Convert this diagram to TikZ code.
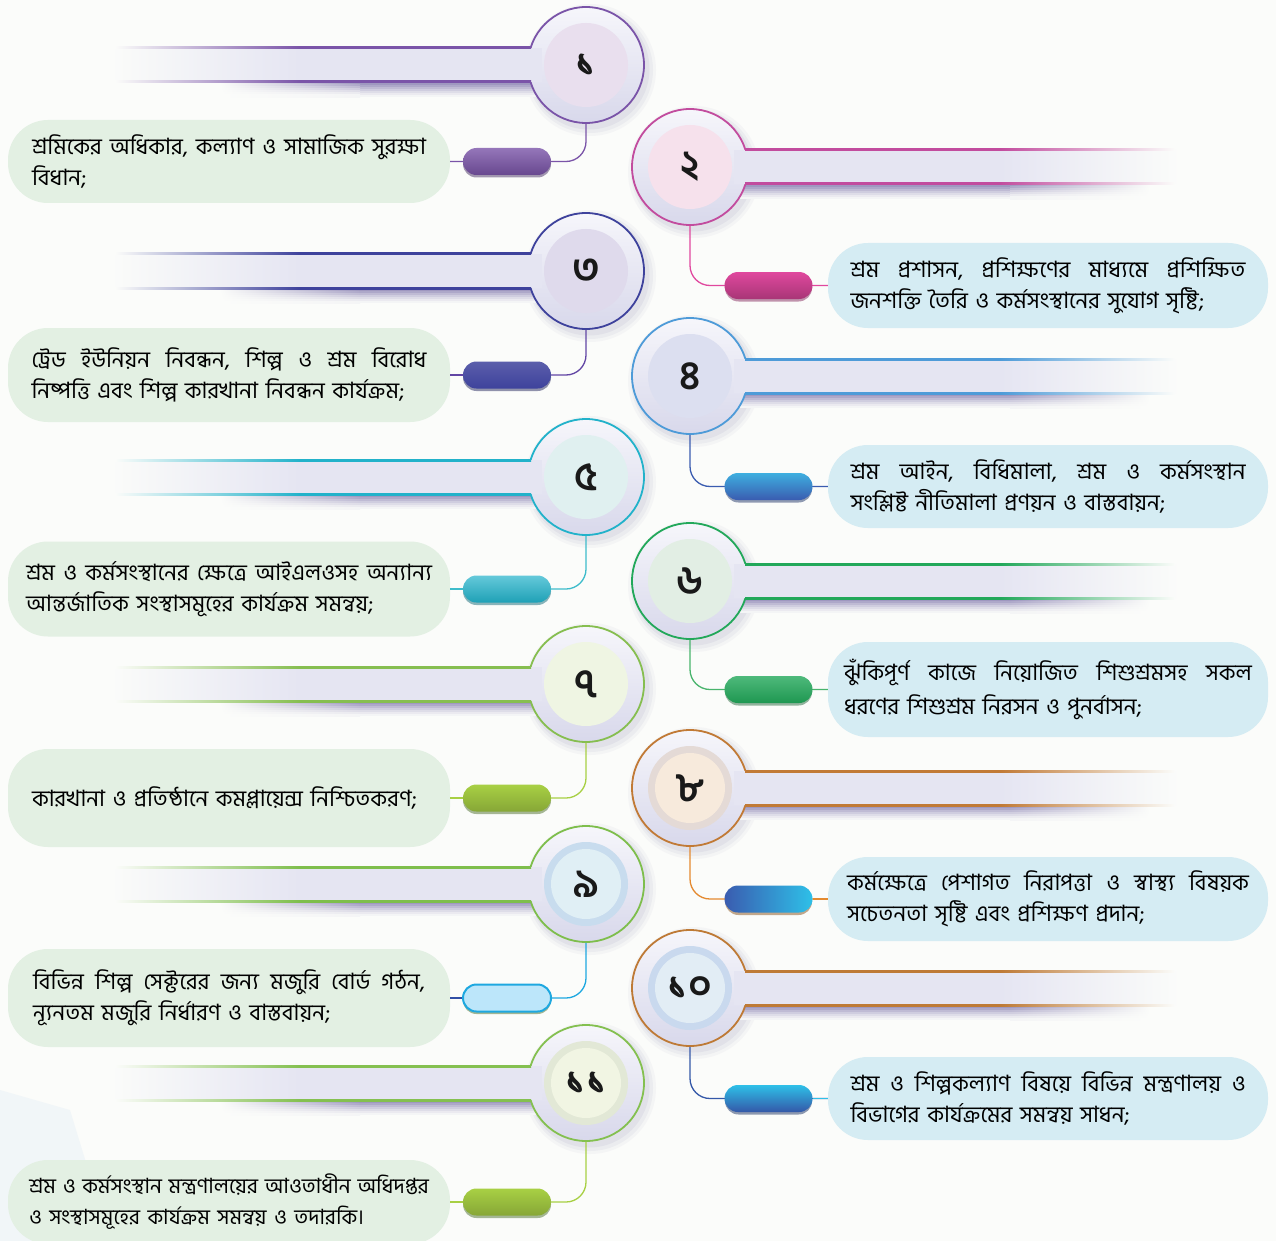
\documentclass[tikz,border=0pt]{standalone}
\usepackage{fontspec}
\setmainfont[Script=Bengali]{Hind Siliguri}
\newfontfamily\bnnum[Script=Bengali]{Hind Siliguri}

\definecolor{bgc}{HTML}{FBFCFA}
\definecolor{bandc}{HTML}{E5E5F2}
\definecolor{ctop}{HTML}{F6F6FB}
\definecolor{cbot}{HTML}{D8D8EB}
\definecolor{circshadow}{HTML}{7D76A8}
\definecolor{bandshadow}{HTML}{9A93BD}
\definecolor{lbox}{HTML}{E3F0E3}
\definecolor{rbox}{HTML}{D5ECF3}
\definecolor{pill9fill}{HTML}{BCE6FA}
\definecolor{tintc}{HTML}{E6EFF6}

% item colours
\definecolor{main1}{HTML}{7A54A8}\definecolor{inner1}{HTML}{E9DFEE}\colorlet{ring1}{inner1}
\definecolor{conn1}{HTML}{7A54A8}\colorlet{link1}{conn1}
\definecolor{main2}{HTML}{C24C9E}\definecolor{inner2}{HTML}{F6E1EC}\colorlet{ring2}{inner2}
\definecolor{conn2}{HTML}{E0489E}\colorlet{link2}{conn2}
\definecolor{main3}{HTML}{3E429C}\definecolor{inner3}{HTML}{DFDAEC}\colorlet{ring3}{inner3}
\definecolor{conn3}{HTML}{6246A4}\colorlet{link3}{conn3}
\definecolor{main4}{HTML}{4E9BD8}\definecolor{inner4}{HTML}{DCDFF0}\colorlet{ring4}{inner4}
\definecolor{conn4}{HTML}{3A5CB0}\colorlet{link4}{conn4}
\definecolor{main5}{HTML}{22B2CA}\definecolor{inner5}{HTML}{E0F0F0}\colorlet{ring5}{inner5}
\definecolor{conn5}{HTML}{3EBCCB}\colorlet{link5}{conn5}
\definecolor{main6}{HTML}{22A85A}\definecolor{inner6}{HTML}{E2EEE4}\colorlet{ring6}{inner6}
\definecolor{conn6}{HTML}{48B46C}\colorlet{link6}{conn6}
\definecolor{main7}{HTML}{86BE50}\definecolor{inner7}{HTML}{EFF5E3}\colorlet{ring7}{inner7}
\definecolor{conn7}{HTML}{A8D044}\colorlet{link7}{conn7}
\definecolor{main8}{HTML}{C17A36}\definecolor{inner8}{HTML}{F7EADC}\definecolor{ring8}{HTML}{E4DAD6}
\definecolor{conn8}{HTML}{E48A30}\colorlet{link8}{conn8}
\definecolor{main9}{HTML}{7EBE4C}\definecolor{inner9}{HTML}{E0EFF5}\definecolor{ring9}{HTML}{C8DCEE}
\definecolor{conn9}{HTML}{1EA8E0}\definecolor{link9}{HTML}{3250A6}
\definecolor{main10}{HTML}{BE7A36}\definecolor{inner10}{HTML}{E2EDF5}\definecolor{ring10}{HTML}{C9D9EE}
\definecolor{conn10}{HTML}{3458A8}\definecolor{link10}{HTML}{2EC0E8}
\definecolor{main11}{HTML}{84C050}\definecolor{inner11}{HTML}{F1F5E3}\definecolor{ring11}{HTML}{E2E8D6}
\definecolor{conn11}{HTML}{A8D044}\colorlet{link11}{conn11}

\tikzset{
  circ/.style={circle, minimum size=116pt, inner sep=0pt, line width=1.8pt},
  numf/.style={font=\bnnum\bfseries\fontsize{40}{40}\selectfont, text=black!90, inner sep=0pt},
  tbox/.style={rounded corners=40pt, align=left, inner xsep=0pt, inner ysep=0pt,
     font=\fontsize{22.5}{31}\selectfont, text=black},
  conn/.style={line width=1.3pt, rounded corners=20pt},
  pillbase/.style={rounded corners=13.5pt, minimum width=88pt, minimum height=27pt, inner sep=0pt},
  pill1/.style={top color=main1!80!white, bottom color=main1!85!black},
  pill2/.style={top color=conn2, bottom color=conn2!75!black},
  pill3/.style={top color=main3!85!white, bottom color=main3},
  pill4/.style={top color=main4!80!cyan, bottom color=conn4},
  pill5/.style={top color=main5!70!white, bottom color=main5!90!black},
  pill6/.style={top color=main6!80!white, bottom color=main6!90!black},
  pill7/.style={top color=conn7, bottom color=conn7!80!black},
  pill8/.style={left color=conn4, right color=link10},
  pill9/.style={fill=pill9fill, draw=conn9, line width=2pt},
  pill10/.style={top color=link10, bottom color=conn10},
  pill11/.style={top color=conn11, bottom color=conn11!80!black},
}
\newcommand\s{\hfill}
\newcommand\JL[2]{\makebox[#1pt][s]{#2}}

% #1 id, #2 cy, #3 box center y, #4 box height, #5 numeral, #6 text width, #7 text
\newcommand\LeftItem[7]{%
  \fill[circshadow,opacity=0.05] (590,#2+5) circle (66pt);
  \fill[circshadow,opacity=0.07] (590,#2+5) circle (63pt);
  \fill[circshadow,opacity=0.09] (589,#2+4) circle (60.5pt);
  \foreach \k/\c in {0/95,1/80,2/62,3/45,4/30,5/17,6/7}{
    \shade[left color=bgc, right color=bandshadow!\c!bgc] (220,#2+18+2*\k) rectangle (360,#2+20.2+2*\k);
    \fill[bandshadow!\c!bgc] (359,#2+18+2*\k) rectangle (540,#2+20.2+2*\k);
  }
  \node[circ, draw=main#1, top color=ctop, bottom color=cbot] (c#1) at (586,#2) {};
  \fill[bandc] (299,#2-17) rectangle (542,#2+17);
  \shade[left color=bgc, right color=bandc] (110,#2-17) rectangle (300,#2+17);
  \shade[left color=main#1, right color=main#1] (299,#2-18) rectangle (531,#2-16);
  \shade[left color=main#1, right color=main#1] (299,#2+16) rectangle (531,#2+18);
  \shade[left color=bgc, right color=main#1] (115,#2-18) rectangle (300,#2-16);
  \shade[left color=bgc, right color=main#1] (115,#2+16) rectangle (300,#2+18);
  \fill[ring#1] (586,#2) circle (42pt);
  \fill[inner#1] (586,#2) circle (35pt);
  \node[numf] (n#1) at (586,#2) {#5};
  \node[tbox, fill=lbox, text width=#6pt, minimum width=442pt, minimum height=#4pt] (t#1) at (229,#3) {#7};
  \draw[conn, draw=conn#1] (c#1.south) |- (t#1.east);
  \fill[main#1!60!black, opacity=0.5, rounded corners=13.5pt] (463,#3-11.5) rectangle (551,#3+16);
  \node[pillbase, pill#1] (p#1) at (507,#3) {};
  \draw[conn, draw=link#1] (p#1.west) -- (t#1.east);
}
\newcommand\RightItem[7]{%
  \fill[circshadow,opacity=0.05] (694,#2+5) circle (66pt);
  \fill[circshadow,opacity=0.07] (694,#2+5) circle (63pt);
  \fill[circshadow,opacity=0.09] (693,#2+4) circle (60.5pt);
  \foreach \k/\c in {0/95,1/80,2/62,3/45,4/30,5/17,6/7}{
    \fill[bandshadow!\c!bgc] (740,#2+18+2*\k) rectangle (1011,#2+20.2+2*\k);
    \shade[left color=bandshadow!\c!bgc, right color=bgc] (1010,#2+18+2*\k) rectangle (1150,#2+20.2+2*\k);
  }
  \node[circ, draw=main#1, top color=ctop, bottom color=cbot] (c#1) at (690,#2) {};
  \fill[bandc] (734,#2-17) rectangle (1001,#2+17);
  \shade[left color=bandc, right color=bgc] (1000,#2-17) rectangle (1180,#2+17);
  \shade[left color=main#1, right color=main#1] (745,#2-18) rectangle (1001,#2-16);
  \shade[left color=main#1, right color=main#1] (745,#2+16) rectangle (1001,#2+18);
  \shade[left color=main#1, right color=bgc] (1000,#2-18) rectangle (1175,#2-16);
  \shade[left color=main#1, right color=bgc] (1000,#2+16) rectangle (1175,#2+18);
  \fill[ring#1] (690,#2) circle (42pt);
  \fill[inner#1] (690,#2) circle (35pt);
  \node[numf] (n#1) at (690,#2) {#5};
  \node[tbox, fill=rbox, text width=#6pt, minimum width=440pt, minimum height=#4pt] (t#1) at (1048,#3) {#7};
  \draw[conn, draw=conn#1] (c#1.south) |- (t#1.west);
  \fill[conn#1!60!black, opacity=0.5, rounded corners=13.5pt] (725,#3-11.5) rectangle (812,#3+16);
  \node[pillbase, pill#1] (p#1) at (768.5,#3) {};
  \draw[conn, draw=link#1] (p#1.east) -- (t#1.west);
}

\begin{document}
\begin{tikzpicture}[x=1pt,y=-1pt]
\path[use as bounding box, fill=bgc] (0,0) rectangle (1276,1241);
\clip (0,0) rectangle (1276,1241);
% faint background tint, lower left
\fill[tintc, opacity=0.45] (0,1090) -- (70,1110) -- (110,1241) -- (0,1241) -- cycle;

\LeftItem{1}{65}{161.5}{83}{১}{394}{\JL{394}{শ্রমিকের\s অধিকার,\s কল্যাণ\s ও\s সামাজিক\s সুরক্ষা}\\বিধান;}
\RightItem{2}{167}{285.5}{85}{২}{395}{\JL{395}{শ্রম\s প্রশাসন,\s প্রশিক্ষণের\s মাধ্যমে\s প্রশিক্ষিত}\\জনশক্তি তৈরি ও কর্মসংস্থানের সুযোগ সৃষ্টি;}
\LeftItem{3}{271}{375}{94}{৩}{395}{\JL{395}{ট্রেড\s ইউনিয়ন\s নিবন্ধন,\s শিল্প\s ও\s শ্রম\s বিরোধ}\\নিষ্পত্তি এবং শিল্প কারখানা নিবন্ধন কার্যক্রম;}
\RightItem{4}{376}{486.5}{83}{৪}{395}{\JL{395}{শ্রম\s আইন,\s বিধিমালা,\s শ্রম\s ও\s কর্মসংস্থান}\\সংশ্লিষ্ট নীতিমালা প্রণয়ন ও বাস্তবায়ন;}
\LeftItem{5}{477}{589}{95}{৫}{406}{\JL{406}{শ্রম\s ও\s কর্মসংস্থানের\s ক্ষেত্রে\s আইএলওসহ\s অন্যান্য}\\আন্তর্জাতিক সংস্থাসমূহের কার্যক্রম সমন্বয়;}
\RightItem{6}{581}{689.5}{95}{৬}{408}{\JL{408}{ঝুঁকিপূর্ণ\s কাজে\s নিয়োজিত\s শিশুশ্রমসহ\s সকল}\\[3pt]ধরণের শিশুশ্রম নিরসন ও পুনর্বাসন;}
\LeftItem{7}{684}{798}{98}{৭}{394}{কারখানা ও প্রতিষ্ঠানে কমপ্লায়েন্স নিশ্চিতকরণ;}
\RightItem{8}{788}{899}{84}{৮}{402}{\JL{402}{কর্মক্ষেত্রে\s পেশাগত\s নিরাপত্তা\s ও\s স্বাস্থ্য\s বিষয়ক}\\সচেতনতা সৃষ্টি এবং প্রশিক্ষণ প্রদান;}
\LeftItem{9}{884}{998}{98}{৯}{392}{\JL{392}{বিভিন্ন\s শিল্প\s সেক্টরের\s জন্য\s মজুরি\s বোর্ড\s গঠন,}\\ন্যূনতম মজুরি নির্ধারণ ও বাস্তবায়ন;}
\RightItem{10}{988}{1098.5}{83}{১০}{395}{\JL{395}{শ্রম\s ও\s শিল্পকল্যাণ\s বিষয়ে\s বিভিন্ন\s মন্ত্রণালয়\s ও}\\বিভাগের কার্যক্রমের সমন্বয় সাধন;}
\LeftItem{11}{1083}{1202}{84}{১১}{400}{\fontsize{21}{31}\selectfont\JL{400}{শ্রম\s ও\s কর্মসংস্থান\s মন্ত্রণালয়ের\s আওতাধীন\s অধিদপ্তর}\\ও সংস্থাসমূহের কার্যক্রম সমন্বয় ও তদারকি।}
\end{tikzpicture}
\end{document}
